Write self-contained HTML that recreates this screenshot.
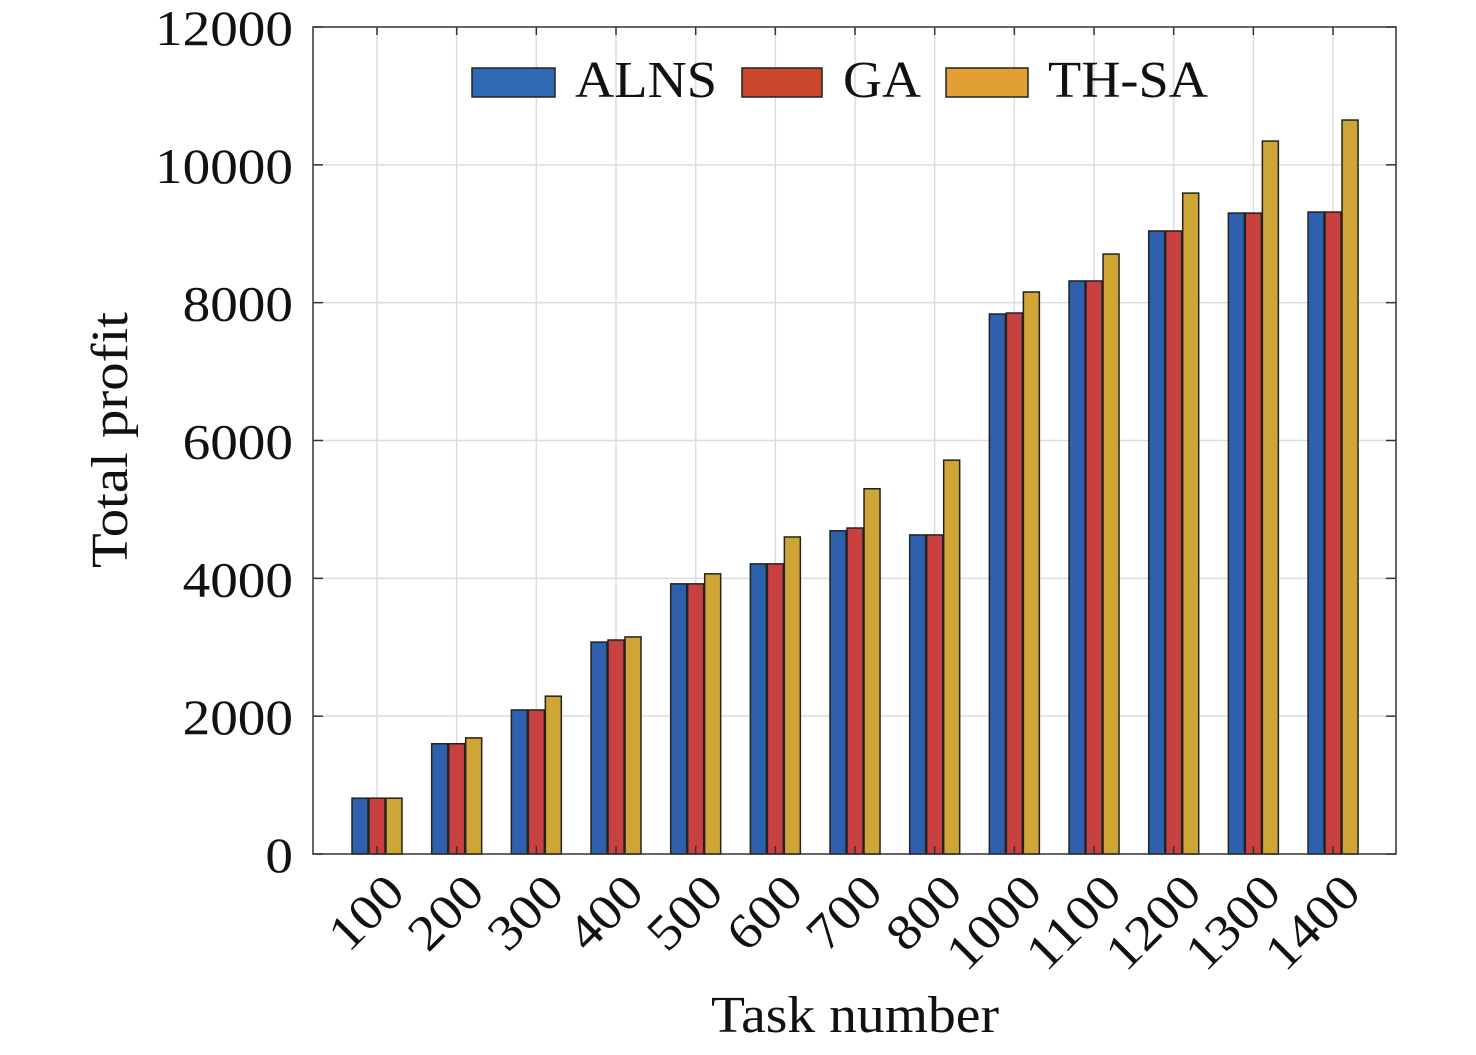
<!DOCTYPE html>
<html><head><meta charset="utf-8"><style>html,body{margin:0;padding:0;background:#fff}</style></head>
<body>
<svg width="1476" height="1050" xmlns="http://www.w3.org/2000/svg" font-family="Liberation Serif, serif">
<rect width="1476" height="1050" fill="#fff"/>
<g id="grid" stroke="#dcdcdc" stroke-width="1.5"></g>
<g id="bars" stroke="#222" stroke-width="1.5"></g>
<rect x="313" y="27" width="1083" height="827" fill="none" stroke="#333" stroke-width="1.5"/>
<g id="ticks" stroke="#333" stroke-width="1.5"></g>
<g id="labels" font-size="50" fill="#111"></g>
<text x="711" y="1032" font-size="52" textLength="288" lengthAdjust="spacingAndGlyphs" fill="#111">Task number</text>
<text transform="translate(127,568) rotate(-90)" font-size="52" textLength="256" lengthAdjust="spacingAndGlyphs" fill="#111">Total profit</text>
<g font-size="52" fill="#111">
<rect x="472" y="68" width="83" height="29" fill="#2e6bb4" stroke="#222" stroke-width="1.5"/>
<text x="575" y="97" textLength="142" lengthAdjust="spacingAndGlyphs">ALNS</text>
<rect x="742" y="68" width="80" height="29" fill="#c9472c" stroke="#222" stroke-width="1.5"/>
<text x="843" y="97" textLength="78" lengthAdjust="spacingAndGlyphs">GA</text>
<rect x="946" y="68" width="82" height="29" fill="#e0a035" stroke="#222" stroke-width="1.5"/>
<text x="1048" y="97" textLength="160" lengthAdjust="spacingAndGlyphs">TH-SA</text>
</g>
<script>
const ns="http://www.w3.org/2000/svg";
function el(p,t,a,txt){const e=document.createElementNS(ns,t);for(const k in a)e.setAttribute(k,a[k]);if(txt!=null)e.textContent=txt;document.getElementById(p).appendChild(e);}
const Y=v=>854-v*0.068917;
const cats=["100","200","300","400","500","600","700","800","1000","1100","1200","1300","1400"];
const d=[[810,810,810],[1600,1600,1685],[2090,2090,2290],[3075,3105,3150],[3920,3920,4065],[4210,4210,4600],[4690,4730,5300],[4630,4630,5715],[7835,7850,8155],[8315,8315,8705],[9040,9040,9590],[9300,9300,10345],[9315,9315,10650]];
for(let v=2000;v<12000;v+=2000){el("grid","line",{x1:313,x2:1396,y1:Y(v),y2:Y(v)});}
const cols=["#2e60ad","#c94040","#cfa535"];
const offs=[[-25,16],[-8,16],[9,16]];
cats.forEach((c,i)=>{const cx=377+79.67*i;
 el("grid","line",{x1:cx,x2:cx,y1:27,y2:854});
 for(let j=0;j<3;j++){const y=Y(d[i][j]);el("bars","rect",{x:cx+offs[j][0],y:y,width:offs[j][1],height:854-y,fill:cols[j]});}
 el("labels","text",{transform:`translate(${cx+30},${895}) rotate(-45)`,"text-anchor":"end",textLength:c.length*27.6,lengthAdjust:"spacingAndGlyphs"},c);
 el("ticks","line",{x1:cx,x2:cx,y1:854,y2:846});el("ticks","line",{x1:cx,x2:cx,y1:27,y2:35});
});
for(let v=0;v<=12000;v+=2000){const y=Y(v);const s=String(v);
 el("ticks","line",{x1:313,x2:323,y1:y,y2:y});el("ticks","line",{x1:1386,x2:1396,y1:y,y2:y});
 el("labels","text",{x:293-s.length*27.6,y:y+18,textLength:s.length*27.6,lengthAdjust:"spacingAndGlyphs"},s);}
</script>
</svg>
</body></html>
